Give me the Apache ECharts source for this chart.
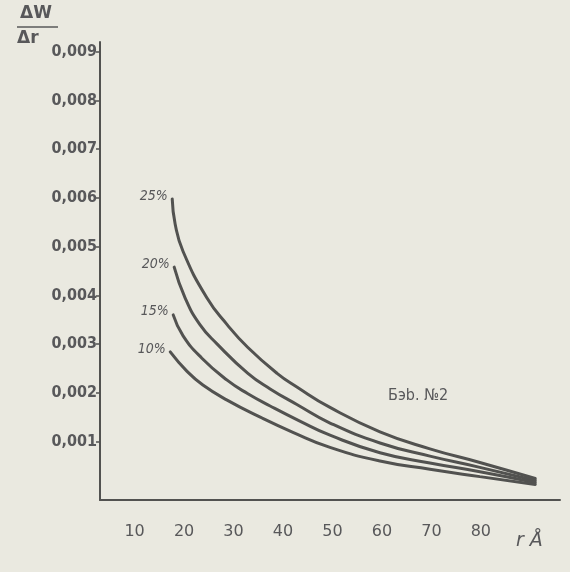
<!DOCTYPE html>
<html>
<head>
<meta charset="utf-8">
<script src="https://cdn.jsdelivr.net/npm/echarts@6/dist/echarts.min.js"></script>
<style>
html,body{margin:0;padding:0;background:#eae9e0;}
#chart{width:570px;height:572px;}
</style>
</head>
<body>
<div id="chart"></div>
<script>
// ---- data (r in Å, ΔW/Δr) ----
const curveNames = ['25%', '20%', '15%', '10%'];
const x25 = [17.6, 18.2, 19.8, 24.6, 28.7, 32.9, 38.8, 42.8, 49.5, 59.6, 69.7, 79.8, 91.0];
const y25 = [0.00598, 0.00546, 0.00490, 0.00395, 0.00340, 0.00293, 0.00240, 0.00212, 0.00170, 0.00120, 0.00085, 0.00057, 0.00024];
const x20 = [18.0, 20.2, 23.2, 26.7, 32.9, 37.4, 42.8, 49.5, 59.6, 69.7, 79.8, 91.0];
const y20 = [0.00458, 0.00395, 0.00340, 0.00300, 0.00240, 0.00208, 0.00176, 0.00138, 0.00097, 0.00070, 0.00047, 0.00020];
const x15 = [17.8, 19.8, 23.6, 28.7, 32.9, 37.4, 43.4, 49.5, 59.6, 69.7, 79.8, 91.0];
const y15 = [0.00360, 0.00317, 0.00271, 0.00226, 0.00198, 0.00173, 0.00142, 0.00113, 0.00077, 0.00056, 0.00038, 0.00016];
const x10 = [17.2, 20.6, 23.8, 28.7, 35.4, 42.0, 49.5, 59.6, 69.7, 79.8, 91.0];
const y10 = [0.00284, 0.00244, 0.00216, 0.00185, 0.00150, 0.00119, 0.00088, 0.00060, 0.00043, 0.00028, 0.00012];
const xTicks = [10, 20, 30, 40, 50, 60, 70, 80];
const yTicks = [0.001, 0.002, 0.003, 0.004, 0.005, 0.006, 0.007, 0.008, 0.009];
const yTitleTop = 'ΔW';
const yTitleBottom = 'Δr';
const xTitle = 'r Å';
const note = 'Бэb. №2';

const xs = [x25, x20, x15, x10];
const ys = [y25, y20, y15, y10];

const ink = '#525250';
const textInk = '#58585a';

const series = curveNames.map((name, i) => ({
  name: name,
  type: 'line',
  smooth: 0.5,
  showSymbol: true,
  showAllSymbol: true,
  symbol: 'circle',
  symbolSize: 1,
  itemStyle: { color: ink, opacity: 0 },
  lineStyle: { color: ink, width: 3, cap: 'round' },
  label: { show: false },
  data: xs[i].map((x, j) => j === 0 ? {
    value: [x, ys[i][j]],
    label: {
      show: true, position: 'left', distance: 4, formatter: name,
      fontFamily: 'DejaVu Sans Condensed, DejaVu Sans', fontSize: 14, fontStyle: 'italic',
      color: textInk, offset: [0, -3], opacity: 1
    }
  } : [x, ys[i][j]])
}));

const chart = echarts.init(document.getElementById('chart'), null, { renderer: 'canvas' });
chart.setOption({
  backgroundColor: '#eae9e0',
  animation: false,
  grid: { left: 100, right: 10, top: 42, bottom: 72 },
  xAxis: {
    type: 'value', min: 3, max: 96,
    axisLine: { show: true, onZero: false, lineStyle: { color: ink, width: 2 } },
    axisTick: { show: false },
    splitLine: { show: false },
    axisLabel: {
      customValues: xTicks, margin: 24, fontSize: 16,
      fontFamily: 'DejaVu Sans', color: textInk
    }
  },
  yAxis: {
    type: 'value', min: -0.0002, max: 0.0092,
    axisLine: { show: true, onZero: false, lineStyle: { color: ink, width: 2 } },
    axisTick: { show: true, customValues: yTicks, length: 4, lineStyle: { color: ink, width: 1.5 } },
    splitLine: { show: false },
    axisLabel: {
      customValues: yTicks, margin: 3, fontSize: 16, fontWeight: 'bold',
      fontFamily: 'DejaVu Sans Condensed, DejaVu Sans', color: textInk,
      formatter: v => v.toFixed(3).replace('.', ',')
    }
  },
  series: series,
  graphic: [
    { type: 'text', left: 20, top: 5, style: { text: yTitleTop, font: 'bold 17px DejaVu Sans', fill: textInk } },
    { type: 'line', shape: { x1: 17, y1: 27, x2: 58, y2: 27 }, style: { stroke: textInk, lineWidth: 1.5 } },
    { type: 'text', left: 17, top: 30, style: { text: yTitleBottom, font: 'bold 17px DejaVu Sans', fill: textInk } },
    { type: 'text', left: 516, top: 532, style: { text: xTitle, font: 'italic 19px DejaVu Sans', fill: textInk } },
    { type: 'text', left: 388, top: 388, style: { text: note, font: '16px DejaVu Sans Condensed, DejaVu Sans', fill: textInk } }
  ]
});
</script>
</body>
</html>
